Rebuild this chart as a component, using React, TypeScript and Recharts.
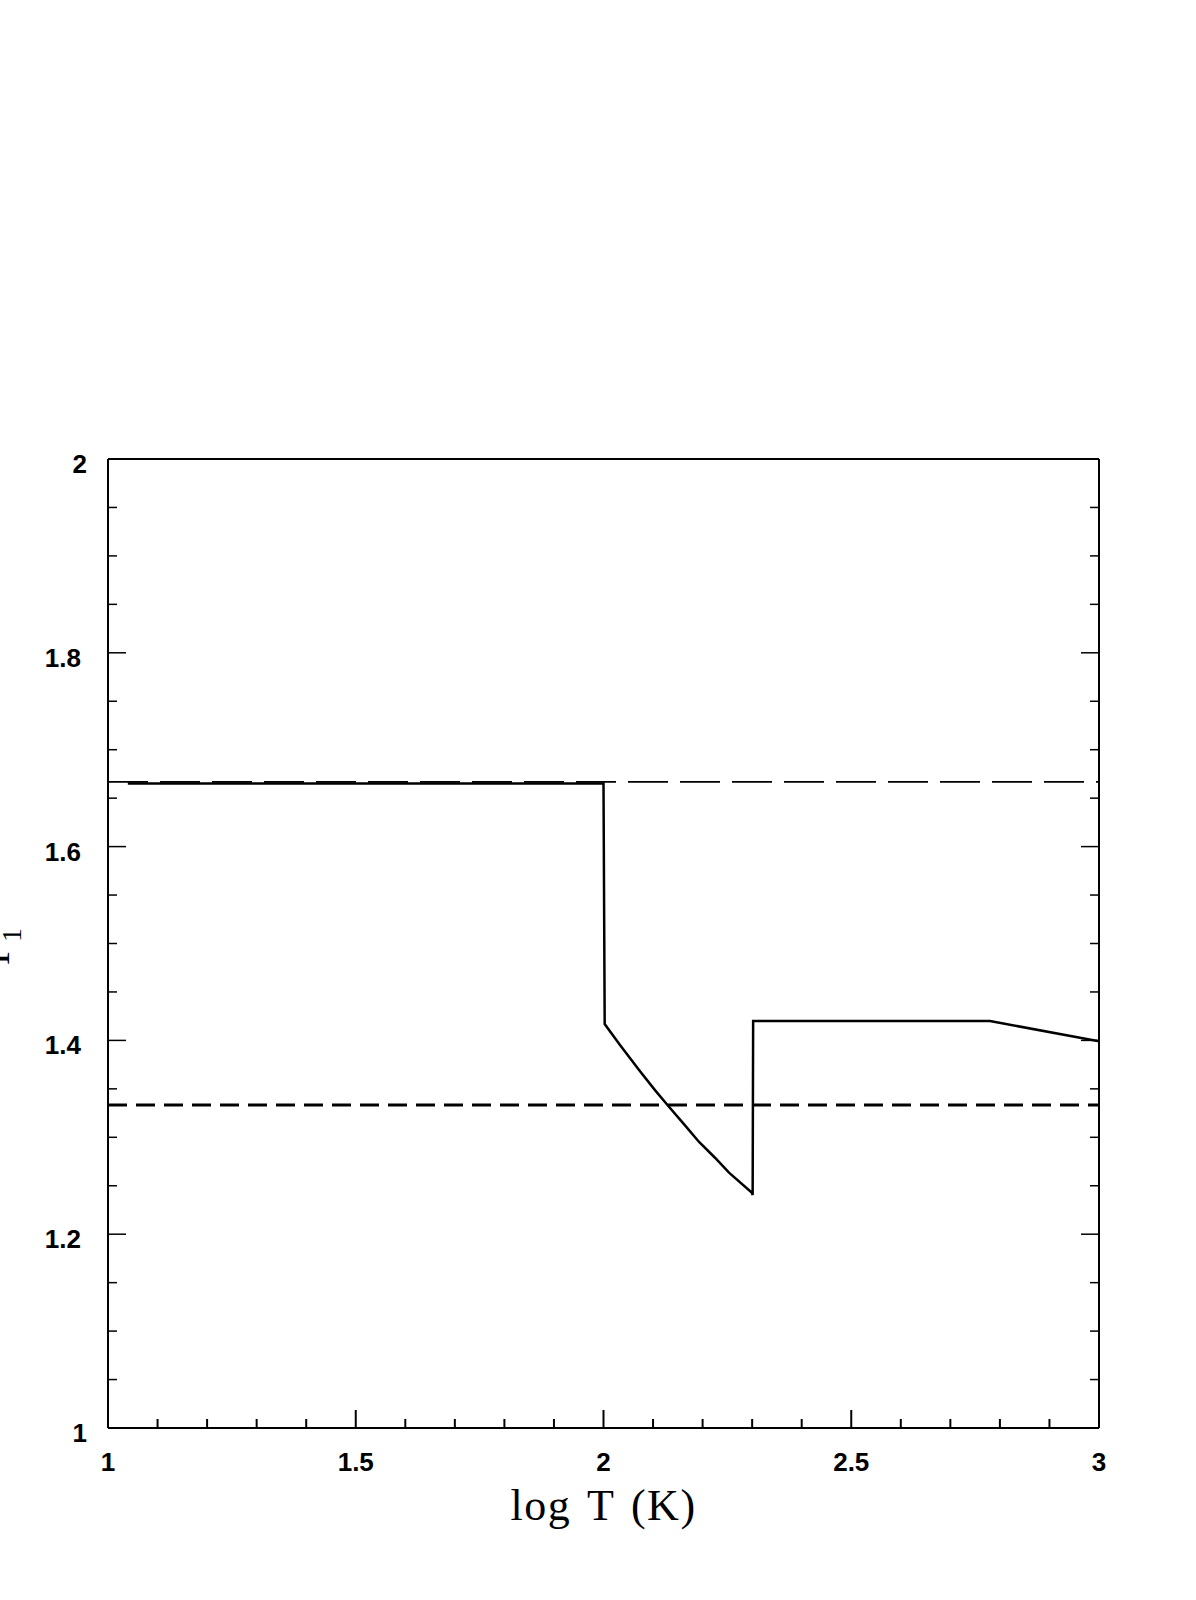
import React from "react";
import { LineChart, Line, XAxis, YAxis } from "recharts";

// log T (K) on x, Gamma_1 on y
const solidLogT = [
  1.04, 2.0, 2.0024, 2.0333, 2.0737, 2.1039, 2.1308, 2.1645, 2.1929, 2.225, 2.2533, 2.2991, 2.301, 2.302, 2.78, 3.0,
];
const solidGamma = [
  1.665, 1.665, 1.4169, 1.3952, 1.3682, 1.3487, 1.3323, 1.3123, 1.2952, 1.2789, 1.2636, 1.243, 1.2405, 1.42, 1.42, 1.399,
];

const monatomicLogT = [1, 3];
const monatomicGamma = [1.6667, 1.6667];

const diatomicLogT = [1, 3];
const diatomicGamma = [1.3333, 1.3333];

const xTicks = [1, 1.1, 1.2, 1.3, 1.4, 1.5, 1.6, 1.7, 1.8, 1.9, 2, 2.1, 2.2, 2.3, 2.4, 2.5, 2.6, 2.7, 2.8, 2.9, 3];
const yTicks = [1, 1.05, 1.1, 1.15, 1.2, 1.25, 1.3, 1.35, 1.4, 1.45, 1.5, 1.55, 1.6, 1.65, 1.7, 1.75, 1.8, 1.85, 1.9, 1.95, 2];

const toRows = (xs: number[], ys: number[]) => xs.map((x, i) => ({ logT: x, gamma: ys[i] }));

const solidRows = toRows(solidLogT, solidGamma);
const monoRows = toRows(monatomicLogT, monatomicGamma);
const diRows = toRows(diatomicLogT, diatomicGamma);

const isMajorX = (v: number) => Math.abs(v * 2 - Math.round(v * 2)) < 1e-6;
const isMajorY = (v: number) => Math.abs(v * 5 - Math.round(v * 5)) < 1e-6;
const isInt = (v: number) => Math.abs(v - Math.round(v)) < 1e-6;
const fmt = (v: number) => String(Number(v.toFixed(1)));

const tickFont = {
  fontFamily: "'Liberation Sans', Arial, sans-serif",
  fontSize: 26,
  fontWeight: "bold" as const,
  fill: "#000",
};
const serif = "'Liberation Serif', 'DejaVu Serif', serif";

const BottomTick = ({ x, y, payload }: any) => {
  const major = isMajorX(payload.value);
  return (
    <g>
      <line x1={x} y1={y} x2={x} y2={y - (major ? 18 : 9)} stroke="#000" strokeWidth={2} />
      {major && (
        <text x={x} y={y + 43} textAnchor="middle" {...tickFont}>
          {fmt(payload.value)}
        </text>
      )}
    </g>
  );
};

const TopTick = ({ x, y, payload }: any) => {
  const major = isMajorX(payload.value);
  return <line x1={x} y1={y} x2={x} y2={y + (major ? 18 : 9)} stroke="#000" strokeWidth={2} />;
};

const LeftTick = ({ x, y, payload }: any) => {
  const major = isMajorY(payload.value);
  return (
    <g>
      <line x1={x} y1={y} x2={x + (major ? 18 : 9)} y2={y} stroke="#000" strokeWidth={1.5} />
      {major && (
        <text x={x - (isInt(payload.value) ? 21 : 27)} y={y + 14} textAnchor="end" {...tickFont}>
          {fmt(payload.value)}
        </text>
      )}
    </g>
  );
};

const RightTick = ({ x, y, payload }: any) => {
  const major = isMajorY(payload.value);
  return <line x1={x} y1={y} x2={x - (major ? 18 : 9)} y2={y} stroke="#000" strokeWidth={1.5} />;
};

const XLabel = (props: any) => {
  const vb = props.viewBox || {};
  return (
    <text
      x={vb.x + vb.width / 2}
      y={vb.y + 92}
      textAnchor="middle"
      fontFamily={serif}
      fontSize={44}
      letterSpacing={1.5}
      wordSpacing={4}
      fill="#000"
    >
      log T (K)
    </text>
  );
};

const YLabel = () => (
  <text transform="translate(9, 965) rotate(-90)" fontFamily={serif} fontSize={40} fill="#000">
    Γ
    <tspan fontSize={28} dy={12}>
      1
    </tspan>
  </text>
);

const axisLine = { stroke: "#000", strokeWidth: 2 };

export default function App() {
  return (
    <div style={{ position: "absolute", left: 0, top: 0, width: 1196, height: 1600, background: "#fff" }}>
      <LineChart width={1196} height={1600} margin={{ top: 458, right: 96, bottom: 171, left: 107 }}>
        <XAxis
          xAxisId="bottom"
          dataKey="logT"
          type="number"
          domain={[1, 3]}
          ticks={xTicks}
          interval={0}
          allowDataOverflow
          height={1}
          tickSize={0}
          tickMargin={0}
          tickLine={false}
          axisLine={axisLine}
          tick={<BottomTick />}
          label={<XLabel />}
        />
        <XAxis
          xAxisId="top"
          orientation="top"
          type="number"
          domain={[1, 3]}
          ticks={xTicks}
          interval={0}
          allowDataOverflow
          height={1}
          tickSize={0}
          tickMargin={0}
          tickLine={false}
          axisLine={axisLine}
          tick={<TopTick />}
        />
        <YAxis
          yAxisId="left"
          type="number"
          domain={[1, 2]}
          ticks={yTicks}
          interval={0}
          allowDataOverflow
          width={1}
          tickSize={0}
          tickMargin={0}
          tickLine={false}
          axisLine={axisLine}
          tick={<LeftTick />}
          label={<YLabel />}
        />
        <YAxis
          yAxisId="right"
          orientation="right"
          type="number"
          domain={[1, 2]}
          ticks={yTicks}
          interval={0}
          allowDataOverflow
          width={1}
          tickSize={0}
          tickMargin={0}
          tickLine={false}
          axisLine={axisLine}
          tick={<RightTick />}
        />
        <Line
          xAxisId="bottom"
          yAxisId="left"
          data={monoRows}
          dataKey="gamma"
          type="linear"
          stroke="#000"
          strokeWidth={1.8}
          strokeDasharray="40 12"
          dot={false}
          isAnimationActive={false}
        />
        <Line
          xAxisId="bottom"
          yAxisId="left"
          data={diRows}
          dataKey="gamma"
          type="linear"
          stroke="#000"
          strokeWidth={3}
          strokeDasharray="19 9"
          dot={false}
          isAnimationActive={false}
        />
        <Line
          xAxisId="bottom"
          yAxisId="left"
          data={solidRows}
          dataKey="gamma"
          type="linear"
          stroke="#000"
          strokeWidth={2.5}
          dot={false}
          isAnimationActive={false}
        />
      </LineChart>
    </div>
  );
}
